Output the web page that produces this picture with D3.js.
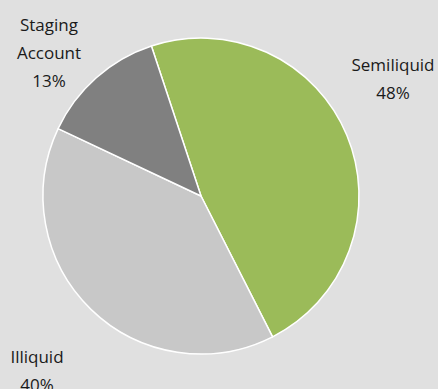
<!DOCTYPE html>
<html><head><meta charset="utf-8">
<script src="https://cdn.jsdelivr.net/npm/d3@7"></script>
<style>html,body{margin:0;padding:0;background:#e0e0e0;}svg{display:block;}</style>
</head><body>
<script>
const categories = ["Semiliquid", "Illiquid", "Staging Account"];
const values = [47.6, 39.5, 12.9];
const labels = [["Semiliquid","48%"],["Illiquid","40%"],["Staging","Account","13%"]];
const colors = ["#9bbb59", "#c8c8c8", "#808080"];

const W = 438, H = 389;
const svg = d3.select("body").append("svg").attr("width", W).attr("height", H);
svg.append("rect").attr("width", W).attr("height", H).attr("fill", "#e0e0e0");
const cx = 201, cy = 196, r = 158;
const startDeg = -18.3;
const pie = d3.pie().sort(null).value(d => d)
  .startAngle(startDeg * Math.PI / 180).endAngle((startDeg + 360) * Math.PI / 180);
const arcs = pie(values);
const arc = d3.arc().innerRadius(0).outerRadius(r);
const g = svg.append("g").attr("transform", `translate(${cx},${cy})`);
g.selectAll("path").data(arcs).enter().append("path")
  .attr("d", arc).attr("fill", (d, i) => colors[i])
  .attr("stroke", "#ffffff").attr("stroke-width", 1.5).attr("stroke-linejoin", "round");

const labelPos = [[393, 71], [37, 363], [49, 31]];
const lh = 28;
labels.forEach((lines, i) => {
  const t = svg.append("text").attr("text-anchor", "middle")
    .attr("font-family", "Open Sans, sans-serif").attr("font-size", 17).attr("fill", "#1a1a1a");
  lines.forEach((s, j) => {
    t.append("tspan").attr("x", labelPos[i][0]).attr("y", labelPos[i][1] + j * lh).text(s);
  });
});
</script>
</body></html>
